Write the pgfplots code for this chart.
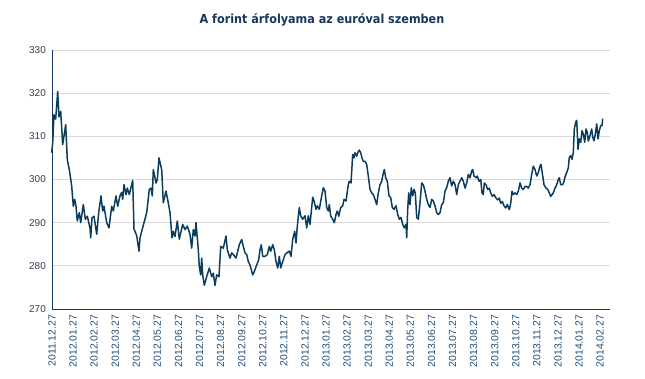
\documentclass[border=0pt]{standalone}
\usepackage{pgfplots}
\pgfplotsset{compat=1.18}
\usepackage{pgfplotstable}
\usepackage{fontspec}
\setmainfont{DejaVu Sans Condensed}
\newfontfamily\arialfont{Liberation Sans}
\definecolor{linec}{HTML}{0B3C5D}
\definecolor{titlec}{HTML}{17375E}
\definecolor{xlab}{HTML}{1F4E79}
\definecolor{ylab}{HTML}{333F4F}
\definecolor{gridc}{HTML}{D9D9D9}
\pgfplotstableread{
px val
51.7 306.2
52.7 308.5
54.0 315.0
55.7 314.0
57.7 320.4
59.0 314.5
60.7 315.8
62.7 308.1
65.7 312.7
67.3 304.6
69.3 302.3
71.7 298.5
73.3 293.8
74.7 295.4
76.0 293.8
77.3 290.4
79.3 292.3
80.7 290.0
83.3 294.2
85.3 290.8
87.3 291.5
90.0 288.8
90.7 286.5
92.0 291.1
94.0 291.5
96.7 287.3
98.7 292.3
101.0 296.2
102.7 292.7
104.0 293.8
106.7 290.0
109.0 288.8
111.7 293.8
113.3 292.7
116.0 296.2
117.7 293.8
120.0 296.2
121.7 297.0
122.7 295.4
124.0 298.8
126.0 296.5
127.3 298.0
129.3 296.5
132.7 299.8
134.0 288.5
136.7 287.0
139.0 283.4
140.0 286.5
144.0 290.0
146.7 292.3
149.3 297.7
151.0 298.0
152.3 296.2
153.3 302.3
156.0 299.2
157.3 300.0
159.0 305.0
161.7 302.3
163.3 294.6
166.0 297.3
168.3 294.6
170.0 292.3
172.0 286.5
173.3 288.0
175.0 286.8
177.3 290.4
179.3 286.2
182.7 289.6
185.0 288.4
187.3 289.2
190.0 287.3
191.7 284.1
193.3 288.4
195.0 286.9
196.0 290.0
198.3 283.75
199.3 279.8
200.7 277.9
201.7 281.8
202.7 277.9
204.3 275.5
206.7 277.5
209.3 279.5
211.7 277.5
213.3 278.3
215.0 275.5
216.7 277.9
219.0 277.5
220.7 284.5
223.3 284.1
226.0 286.9
227.3 283.75
230.0 281.8
231.7 283.0
233.3 282.6
236.0 281.8
237.3 283.0
239.3 284.9
241.7 286.1
243.3 284.5
245.0 283.0
246.7 282.6
248.3 281.0
250.0 280.2
252.7 277.9
254.3 278.7
256.7 280.2
258.7 281.4
260.0 283.75
261.3 284.9
262.7 282.2
265.0 282.2
267.3 282.6
269.3 284.5
270.7 283.4
272.7 284.9
274.3 283.75
276.0 281.0
277.7 279.5
279.3 282.2
280.7 279.5
282.7 281.0
285.0 282.6
286.7 283.0
289.3 283.4
291.0 282.2
292.7 286.1
294.7 288.0
296.0 285.3
297.3 289.2
299.3 293.5
300.7 291.6
302.7 290.8
305.0 291.6
306.7 288.8
308.3 291.6
310.0 289.6
312.7 295.9
314.0 295.1
316.0 293.1
317.3 293.9
319.3 293.1
321.7 296.2
323.3 298.1
325.0 297.3
326.7 293.5
328.3 292.7
329.3 294.2
330.7 291.5
332.7 290.8
334.3 290.0
336.0 291.9
337.3 292.7
338.7 291.5
340.7 293.5
342.7 293.9
344.0 295.4
346.0 295.0
348.3 298.8
349.3 299.6
351.0 299.2
352.7 305.8
354.0 305.0
355.0 306.2
356.7 305.4
358.3 306.5
359.3 306.8
360.7 306.2
362.0 305.0
363.3 304.2
365.0 304.2
366.7 303.5
368.3 300.8
370.0 297.7
371.7 296.9
373.3 296.5
375.0 295.4
376.7 294.2
378.3 296.9
380.0 298.8
381.7 299.6
383.3 301.5
384.3 302.3
385.7 300.4
387.3 299.6
389.0 296.2
390.7 295.8
392.3 293.5
394.0 293.1
396.0 293.9
397.7 291.9
399.3 290.8
401.0 291.2
402.7 289.6
404.3 288.8
406.0 289.6
406.7 286.5
407.7 293.1
408.7 296.9
410.0 294.2
411.3 298.1
412.7 296.2
414.0 297.7
415.3 296.9
416.7 291.2
418.3 290.8
420.0 294.6
421.7 299.2
423.3 298.8
425.0 297.3
426.7 295.4
428.3 294.2
430.0 293.5
431.7 295.4
433.3 295.0
435.0 293.9
436.7 292.3
438.3 291.9
440.0 292.3
441.7 294.2
443.3 294.6
445.0 297.3
446.7 298.1
448.3 299.6
450.0 300.4
451.7 298.5
453.3 299.6
455.0 298.8
456.7 296.5
458.3 298.8
460.0 299.6
461.7 300.4
463.3 299.6
465.0 298.0
466.7 299.2
468.3 301.2
470.0 300.4
471.7 302.0
472.7 302.3
474.0 300.8
476.0 300.4
477.3 300.8
479.0 299.6
480.7 300.0
482.0 296.9
483.3 296.5
484.3 299.2
486.0 298.8
487.7 297.7
489.3 298.0
490.7 296.9
492.3 296.1
494.0 296.5
496.0 295.7
497.7 295.3
499.3 295.7
500.7 294.5
502.3 294.9
504.0 293.9
505.7 293.4
507.3 294.2
509.3 293.0
510.7 294.5
512.0 297.3
513.3 296.5
515.0 296.9
516.7 296.5
518.3 297.3
520.0 299.2
521.7 298.0
523.3 297.7
525.0 298.4
526.7 298.4
528.3 298.0
530.0 298.8
531.7 301.2
533.3 303.1
535.0 302.3
536.7 300.8
538.3 301.6
540.0 303.1
541.0 303.5
542.7 300.8
544.0 298.8
546.0 298.0
547.7 297.7
549.3 296.9
550.7 296.1
552.0 296.5
553.3 296.9
555.0 298.0
556.7 298.8
558.3 300.0
559.3 300.4
560.7 298.8
562.7 298.8
564.0 299.6
565.3 300.8
566.7 301.6
568.3 302.7
569.3 305.1
570.7 305.5
572.0 304.7
573.3 306.3
574.3 311.7
575.7 313.3
576.7 313.7
578.0 307.0
579.3 309.4
580.7 308.6
582.0 311.3
583.3 310.5
584.7 308.6
586.0 311.7
587.3 310.9
588.3 308.9
590.0 310.2
591.7 311.7
592.7 309.8
594.0 309.0
595.3 310.5
596.7 312.9
598.0 309.4
599.3 311.3
600.7 312.5
602.0 312.5
602.7 314.1
}\eurhuf
\begin{document}
\begin{tikzpicture}
\begin{axis}[
  at={(0,0)}, anchor=south west,
  scale only axis, width=558bp, height=259bp,
  xmin=0, xmax=26.47, ymin=270, ymax=330,
  axis x line=bottom, axis y line=left,
  axis line style={-, draw=titlec, line width=0.8pt},
  ytick={270,280,...,330},
  ymajorgrids, grid style={gridc, line width=0.8pt},
  major tick length=0pt,
  xtick={0,...,26},
  xticklabels={2011.12.27,2012.01.27,2012.02.27,2012.03.27,2012.04.27,2012.05.27,2012.06.27,2012.07.27,2012.08.27,2012.09.27,2012.10.27,2012.11.27,2012.12.27,2013.01.27,2013.02.27,2013.03.27,2013.04.27,2013.05.27,2013.06.27,2013.07.27,2013.08.27,2013.09.27,2013.10.27,2013.11.27,2013.12.27,2014.01.27,2014.02.27},
  x tick label style={yshift=-6bp, rotate=90, anchor=east, font=\arialfont\fontsize{10.4}{12}\selectfont, text=xlab, inner sep=0pt},
  y tick label style={xshift=-6bp, anchor=east, font=\arialfont\fontsize{10}{11}\selectfont, text=ylab, inner sep=0pt},
  /pgf/number format/assume math mode=true,
  yticklabel style={/pgf/number format/1000 sep={}},
  clip=false,
]
\addplot[linec, line width=1.5pt, line join=round] table[x expr={(\thisrow{px}-52)/21.08}, y=val] {\eurhuf};
\end{axis}
\node[font=\bfseries\fontsize{12.5}{14}\selectfont, text=titlec] at (270bp,289bp) {A forint árfolyama az euróval szemben};
\pgfresetboundingbox
\path (-52bp,-70bp) rectangle (593bp,309bp);
\end{tikzpicture}
\end{document}
